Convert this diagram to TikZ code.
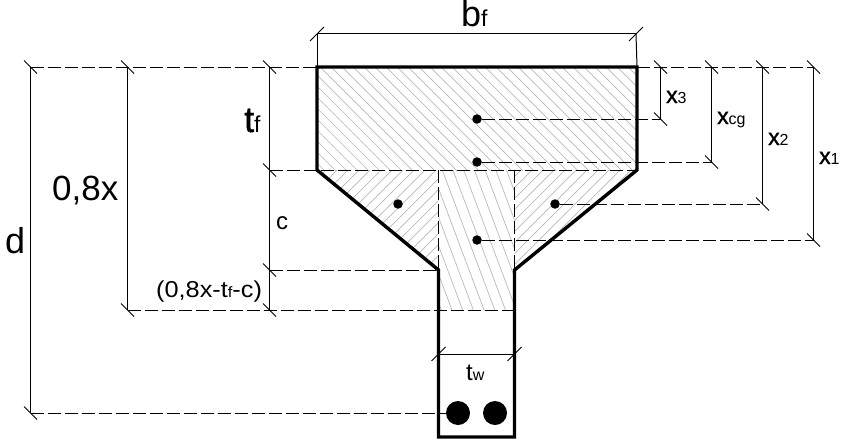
\documentclass[tikz,border=0pt]{standalone}
\usepackage{fontspec}
\setmainfont{Liberation Sans}
\newfontfamily\heavyfont[FakeBold=1.2]{Liberation Sans}
\newfontfamily\widefont[FakeStretch=1.1]{Liberation Sans}
\usetikzlibrary{positioning}

\newcommand{\lsub}[2]{{\fontsize{#1}{#1}\selectfont #2}}
\newcommand{\lhvy}[2]{{\heavyfont\fontsize{#1}{#1}\selectfont #2}}
\newcommand{\lwid}[2]{{\widefont\fontsize{#1}{#1}\selectfont #2}}

\tikzset{
	outline/.style={line width=3.4pt,line join=miter},
	dimline/.style={line width=1pt},
	dashline/.style={line width=1pt,dash pattern=on 13pt off 4pt},
	tickline/.style={line width=0.8pt},
	hatchline/.style={line width=0.7pt,black!28},
	dot/.style={circle,fill=black,inner sep=0pt,minimum size=9.5pt},
	bar/.style={circle,fill=black,inner sep=0pt,minimum size=24pt},
	lab/.style={inner sep=0pt,anchor=base west}
}

\begin{document}
\begin{tikzpicture}[x=1pt,y=-1pt]
	\useasboundingbox (0,0) rectangle (853,444);
	
	% section corners
	\coordinate (f_tl) at (317,67);
	\coordinate (f_tr) at (637,67);
	\coordinate (f_bl) at (317,170);
	\coordinate (f_br) at (637,170);
	\coordinate (w_tl) at (438.5,270);
	\coordinate (w_tr) at (514.5,270);
	\coordinate (w_bl) at (438.5,437);
	\coordinate (w_br) at (514.5,437);
	\coordinate (w_cl) at (438.5,310);
	\coordinate (w_cr) at (514.5,310);
	\coordinate (w_sl) at (438.5,170);
	\coordinate (w_sr) at (514.5,170);
	
	% hatching
	\begin{scope}
		\clip (f_tl) -- (f_tr) -- (f_br) -- (f_bl) -- cycle;
		\foreach \i in {0,11,...,440}
			\draw[hatchline] (200+\i,57) -- ++(125,125);
	\end{scope}
	\begin{scope}
		\clip (f_bl) -- (w_sl) -- (w_tl) -- cycle;
		\foreach \i in {0,11,...,231}
			\draw[hatchline] (205+\i,280) -- ++(120,-120);
	\end{scope}
	\begin{scope}
		\clip (w_sr) -- (f_br) -- (w_tr) -- cycle;
		\foreach \i in {0,11,...,143}
			\draw[hatchline] (400+\i,280) -- ++(120,-120);
	\end{scope}
	\begin{scope}
		\clip (w_sl) -- (w_sr) -- (w_cr) -- (w_cl) -- cycle;
		\foreach \i in {0,10.7,...,140}
			\draw[hatchline] (385+\i,160) -- ++(60,160);
	\end{scope}
	
	% dots and bars
	\node[dot] (d_1) at (477,119) {};
	\node[dot] (d_2) at (477,162) {};
	\node[dot] (d_3) at (398,204) {};
	\node[dot] (d_4) at (555,204) {};
	\node[dot] (d_5) at (477,240) {};
	\node[bar] (b_1) at (458,413) {};
	\node[bar] (b_2) at (495,413) {};
	
	% levels on the dimension lines
	\coordinate (d_top) at (30.5,67);
	\coordinate (d_bot) at (30.5,413);
	\coordinate (e_top) at (127.5,67);
	\coordinate (e_bot) at (127.5,310);
	\coordinate (t_top) at (269.5,67);
	\coordinate (t_mid) at (269.5,170);
	\coordinate (t_low) at (269.5,270);
	\coordinate (t_bot) at (269.5,310);
	\coordinate (x3_t) at (660.5,67);
	\coordinate (x3_b) at (660.5,119);
	\coordinate (xg_t) at (711.5,67);
	\coordinate (xg_b) at (711.5,162);
	\coordinate (x2_t) at (762.5,67);
	\coordinate (x2_b) at (762.5,204);
	\coordinate (x1_t) at (813.5,67);
	\coordinate (x1_b) at (813.5,240);
	\coordinate (bf_l) at (317,34);
	\coordinate (bf_r) at (636,34);
	\coordinate (tw_l) at (438.5,354);
	\coordinate (tw_r) at (514.5,354);
	
	% dashed lines
	\draw[dashline] (d_top) -- (f_tl);
	\draw[dashline] (f_tr) -- (x1_t);
	\draw[dashline] (t_mid) -- (f_br);
	\draw[dashline] (d_1) -- (x3_b);
	\draw[dashline] (d_2) -- (xg_b);
	\draw[dashline] (d_4) -- (x2_b);
	\draw[dashline] (d_5) -- (x1_b);
	\draw[dashline] (t_low) -- (w_tl);
	\draw[dashline] (e_bot) -- (w_cr);
	\draw[dashline] (d_bot) -- (b_1);
	\draw[dashline] (w_sl) -- (w_tl);
	\draw[dashline] (w_sr) -- (w_tr);
	
	% dimension lines
	\draw[dimline] (d_top) -- (d_bot);
	\draw[dimline] (e_top) -- (e_bot);
	\draw[dimline] (t_top) -- (t_bot);
	\draw[dimline] (x3_t) -- (x3_b);
	\draw[dimline] (xg_t) -- (xg_b);
	\draw[dimline] (x2_t) -- (x2_b);
	\draw[dimline] (x1_t) -- (x1_b);
	\draw[dimline] (bf_l) -- (bf_r);
	\draw[dimline] (tw_l) -- (tw_r);
	\draw[dimline] (bf_l) -- (f_tl);
	\draw[dimline] (bf_r) -- (f_tr);
	
	% ticks
	\foreach \c in {d_top,d_bot,e_top,e_bot,t_top,t_mid,t_low,t_bot,x3_t,x3_b,xg_t,xg_b,x2_t,x2_b,x1_t,x1_b}
		\draw[tickline] ([shift={(-6.5,-6.5)}]\c) -- ([shift={(6.5,6.5)}]\c);
	\foreach \c in {bf_l,bf_r,tw_l,tw_r}
		\draw[tickline] ([shift={(-7,7)}]\c) -- ([shift={(7,-7)}]\c);
	
	% section outline
	\draw[outline] (f_tl) -- (f_tr) -- (f_br) -- (w_tr) -- (w_br) -- (w_bl) -- (w_tl) -- (f_bl) -- cycle;
	
	% labels
	\node[lab] (l_bf) at (461,27) {\lsub{36}{b}\lsub{23}{f}};
	\node[lab] (l_tf) at (244,132) {\lhvy{36}{t}\lsub{23}{f}};
	\node[lab] (l_e) at (52,200) {\lsub{35}{0,8x}};
	\node[lab] (l_d) at (5,253) {\lsub{36}{d}};
	\node[lab] (l_c) at (276,229) {\lsub{24}{c}};
	\node[lab] (l_r) at (156,297) {\lwid{23}{(0,8x-t}\lwid{15}{f}\lwid{23}{-c)}};
	\node[lab] (l_x3) at (666,103) {\lhvy{23}{x}\lsub{16}{3}};
	\node[lab] (l_xg) at (717,124) {\lhvy{23}{x}\lsub{16}{cg}};
	\node[lab] (l_x2) at (768,145) {\lhvy{23}{x}\lsub{16}{2}};
	\node[lab] (l_x1) at (819,164) {\lhvy{23}{x}\lsub{16}{1}};
	\node[lab] (l_tw) at (466,380) {\lsub{24}{t}\lsub{16}{w}};
\end{tikzpicture}
\end{document}
